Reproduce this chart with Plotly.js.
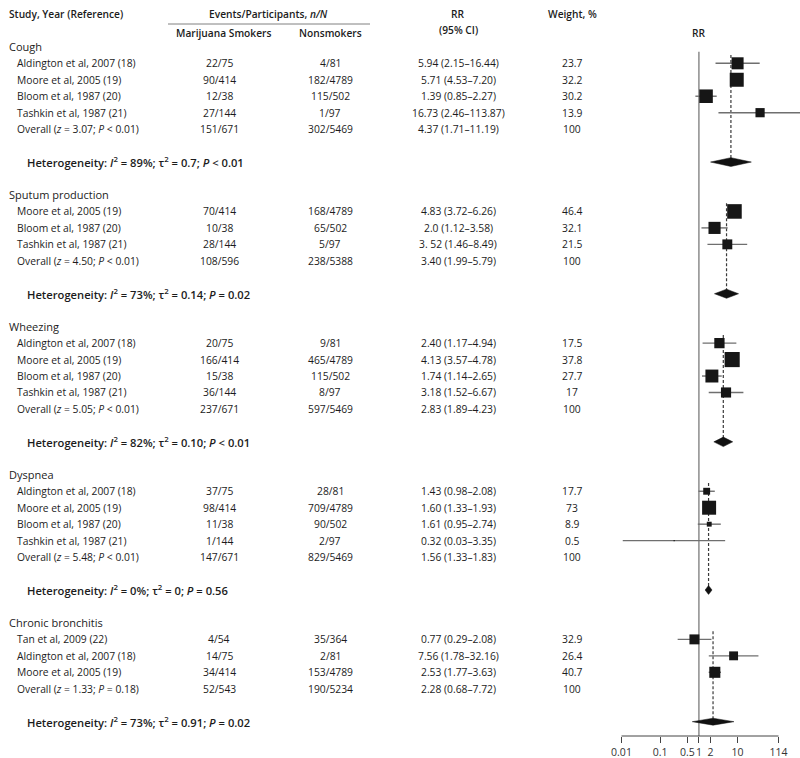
<!DOCTYPE html>
<html><head><meta charset="utf-8">
<script src="https://cdn.plot.ly/plotly-3.0.1.min.js"></script>
<style>html,body{margin:0;padding:0;background:#fff;} #chart{width:800px;height:758px;}</style>
</head><body><div id="chart"></div>
<script>
// ---------------- DATA ----------------
const sectionNames = ["Cough", "Sputum production", "Wheezing", "Dyspnea", "Chronic bronchitis"];

const studyNames = [
  "Aldington et al, 2007 (18)", "Moore et al, 2005 (19)", "Bloom et al, 1987 (20)", "Tashkin et al, 1987 (21)",
  "Moore et al, 2005 (19)", "Bloom et al, 1987 (20)", "Tashkin et al, 1987 (21)",
  "Aldington et al, 2007 (18)", "Moore et al, 2005 (19)", "Bloom et al, 1987 (20)", "Tashkin et al, 1987 (21)",
  "Aldington et al, 2007 (18)", "Moore et al, 2005 (19)", "Bloom et al, 1987 (20)", "Tashkin et al, 1987 (21)",
  "Tan et al, 2009 (22)", "Aldington et al, 2007 (18)", "Moore et al, 2005 (19)"
];
const studySection = [0,0,0,0, 1,1,1, 2,2,2,2, 3,3,3,3, 4,4,4];
const smokerEvents = ["22/75","90/414","12/38","27/144", "70/414","10/38","28/144",
  "20/75","166/414","15/38","36/144", "37/75","98/414","11/38","1/144", "4/54","14/75","34/414"];
const nonsmokerEvents = ["4/81","182/4789","115/502","1/97", "168/4789","65/502","5/97",
  "9/81","465/4789","115/502","8/97", "28/81","709/4789","90/502","2/97", "35/364","2/81","153/4789"];
const rr     = [5.94, 5.71, 1.39, 16.73,  4.83, 2.0, 3.52,  2.40, 4.13, 1.74, 3.18,  1.43, 1.60, 1.61, 0.32,  0.77, 7.56, 2.53];
const rrLow  = [2.15, 4.53, 0.85, 2.46,   3.72, 1.12, 1.46, 1.17, 3.57, 1.14, 1.52,  0.98, 1.33, 0.95, 0.03,  0.29, 1.78, 1.77];
const rrHigh = [16.44, 7.20, 2.27, 113.87, 6.26, 3.58, 8.49, 4.94, 4.78, 2.65, 6.67, 2.08, 1.93, 2.74, 3.35,  2.08, 32.16, 3.63];
const rrText = ["5.94 (2.15–16.44)","5.71 (4.53–7.20)","1.39 (0.85–2.27)","16.73 (2.46–113.87)",
  "4.83 (3.72–6.26)","2.0 (1.12–3.58)","3. 52 (1.46–8.49)",
  "2.40 (1.17–4.94)","4.13 (3.57–4.78)","1.74 (1.14–2.65)","3.18 (1.52–6.67)",
  "1.43 (0.98–2.08)","1.60 (1.33–1.93)","1.61 (0.95–2.74)","0.32 (0.03–3.35)",
  "0.77 (0.29–2.08)","7.56 (1.78–32.16)","2.53 (1.77–3.63)"];
const weight = [23.7, 32.2, 30.2, 13.9,  46.4, 32.1, 21.5,  17.5, 37.8, 27.7, 17,  17.7, 73, 8.9, 0.5,  32.9, 26.4, 40.7];

const overallZ = ["3.07", "4.50", "5.05", "5.48", "1.33"];
const overallP = ["&lt; 0.01", "&lt; 0.01", "&lt; 0.01", "&lt; 0.01", "= 0.18"];
const overallSmokers = ["151/671", "108/596", "237/671", "147/671", "52/543"];
const overallNonsmokers = ["302/5469", "238/5388", "597/5469", "829/5469", "190/5234"];
const overallRR = [4.37, 3.40, 2.83, 1.56, 2.28];
const overallLow = [1.71, 1.99, 1.89, 1.33, 0.68];
const overallHigh = [11.19, 5.79, 4.23, 1.83, 7.72];
const overallRRText = ["4.37 (1.71–11.19)", "3.40 (1.99–5.79)", "2.83 (1.89–4.23)", "1.56 (1.33–1.83)", "2.28 (0.68–7.72)"];
const overallWeight = ["100", "100", "100", "100", "100"];

const hetI2 = ["89%", "73%", "82%", "0%", "73%"];
const hetTau2 = ["0.7", "0.14", "0.10", "0", "0.91"];
const hetP = ["&lt; 0.01", "= 0.02", "&lt; 0.01", "= 0.56", "= 0.02"];

const tickValues = [0.01, 0.1, 0.5, 1, 2, 10, 114];
const tickLabels = ["0.01", "0.1", "0.5", "1", "2", "10", "114"];

// ---------------- STYLE / GEOMETRY ----------------
const W = 800, H = 758;
const FONT = "Open Sans, Noto Sans, sans-serif";
const TXT = "#1c1c1c";
const plotL = 600, plotR = 800;
const tickStartPx = 621.5, tickEndPx = 778.5;
const sectionPxPerDecade = [50, 52, 54, 50, 39.5];
const yTop = -2.846, yBot = 41.87, marginB = 22;
const rowPx = (H - marginB) / (yBot - yTop);

const tickLogMin = Math.log10(tickValues[0]), tickLogMax = Math.log10(tickValues[tickValues.length - 1]);
const tickScale = (tickEndPx - tickStartPx) / (tickLogMax - tickLogMin);
const nullPx = tickStartPx + (0 - tickLogMin) * tickScale;
const tickRange = [(plotL - nullPx) / tickScale, (plotR - nullPx) / tickScale];
function tickPaper(v) { return (plotL + (Math.log10(v) - tickRange[0]) * tickScale) / W; }

const colX = { section: 7, study: 15, het: 25, smk: 219, non: 330, rr: 458, wt: 572 };
const BODY = 10.3;

// ---------------- BUILD ----------------
const traces = [];
const annotations = [];
const layoutAxes = {};

function ann(text, xpx, r, opts) {
  opts = opts || {};
  annotations.push({
    text: text, x: xpx / W, xref: "paper", y: r, yref: "y",
    xanchor: opts.anchor || "center", yanchor: "middle", showarrow: false,
    font: { family: FONT, size: opts.size || BODY, color: TXT, weight: opts.weight || 400 }
  });
}

traces.push({ x: [1, 1], y: [0.3, yBot], xaxis: "x", yaxis: "y", mode: "lines",
  line: { color: "#8c8c8c", width: 1.5 }, hoverinfo: "skip" });

let r = 0;
sectionNames.forEach((name, s) => {
  const idx = [];
  studySection.forEach((sec, i) => { if (sec === s) idx.push(i); });
  const n = idx.length;
  const axisId = "x" + (s + 2);
  const scale = sectionPxPerDecade[s];
  layoutAxes["xaxis" + (s + 2)] = {
    type: "log", overlaying: "x", anchor: "y", visible: false, fixedrange: true,
    range: [(plotL - nullPx) / scale, (plotR - nullPx) / scale]
  };
  const headerRow = r;
  const rows = idx.map((_, k) => headerRow + 1 + k);
  const overallRow = headerRow + n + 1;
  const hetRow = headerRow + n + 3;

  ann(name, colX.section, headerRow, { anchor: "left", size: 11 });
  idx.forEach((i, k) => {
    ann(studyNames[i], colX.study, rows[k], { anchor: "left" });
    ann(smokerEvents[i], colX.smk, rows[k]);
    ann(nonsmokerEvents[i], colX.non, rows[k]);
    ann(rrText[i], colX.rr, rows[k]);
    ann(String(weight[i]), colX.wt, rows[k]);
  });
  ann("Overall (<i>z</i> = " + overallZ[s] + "; <i>P</i> " + overallP[s] + ")", colX.study, overallRow, { anchor: "left" });
  ann(overallSmokers[s], colX.smk, overallRow);
  ann(overallNonsmokers[s], colX.non, overallRow);
  ann(overallRRText[s], colX.rr, overallRow);
  ann(overallWeight[s], colX.wt, overallRow);
  ann("Heterogeneity: <i>I</i><sup>2</sup> = " + hetI2[s] + "; τ<sup>2</sup> = " + hetTau2[s] + "; <i>P</i> " + hetP[s],
      colX.het, hetRow, { anchor: "left", size: 11.2, weight: 600 });

  traces.push({ x: [overallRR[s], overallRR[s]], y: [rows[0] - 0.5, hetRow], xaxis: axisId, yaxis: "y",
    mode: "lines", line: { color: "#3a3a3a", width: 1.2, dash: "3px,2px" }, hoverinfo: "skip" });

  const cx = [], cy = [];
  idx.forEach((i, k) => { cx.push(rrLow[i], rrHigh[i], null); cy.push(rows[k], rows[k], null); });
  traces.push({ x: cx, y: cy, xaxis: axisId, yaxis: "y", mode: "lines",
    line: { color: "#6f6f6f", width: 1.4 }, hoverinfo: "skip" });

  const wmax = Math.max(...idx.map(i => weight[i]));
  traces.push({ x: idx.map(i => rr[i]), y: rows, xaxis: axisId, yaxis: "y", mode: "markers",
    marker: { symbol: "square", color: "#161616", opacity: 1,
      size: idx.map(i => 0.28 * scale * Math.sqrt(weight[i] / wmax)), line: { width: 0 } },
    hoverinfo: "skip" });

  const hh = 0.088 * scale / rowPx;
  traces.push({ x: [overallLow[s], overallRR[s], overallHigh[s], overallRR[s], overallLow[s]],
    y: [hetRow, hetRow - hh, hetRow, hetRow + hh, hetRow], xaxis: axisId, yaxis: "y",
    mode: "lines", fill: "toself", fillcolor: "#111111", line: { color: "#111111", width: 0.5 },
    hoverinfo: "skip" });

  r = headerRow + n + 5;
});

function rowOf(px) { return (px - (yTop * -rowPx)) / rowPx; }
const B = { weight: 600, size: 10.2 };
ann("Study, Year (Reference)", colX.section, rowOf(14), { anchor: "left", weight: 600, size: 10.2 });
ann("Events/Participants, <i>n/N</i>", 268, rowOf(14), B);
ann("Marijuana Smokers", 223, rowOf(33), B);
ann("Nonsmokers", 330, rowOf(33), B);
ann("RR", colX.rr, rowOf(14), B);
ann("(95% CI)", colX.rr, rowOf(30), B);
ann("Weight, %", colX.wt, rowOf(14), B);
ann("RR", nullPx, rowOf(33), B);

const shapes = [
  { type: "line", xref: "paper", yref: "y", x0: 168 / W, x1: 370 / W, y0: rowOf(24), y1: rowOf(24),
    line: { color: "#808080", width: 1 } },
  { type: "line", xref: "paper", yref: "paper", x0: tickPaper(tickValues[0]), x1: tickPaper(tickValues[tickValues.length - 1]),
    y0: 0, y1: 0, line: { color: "#444", width: 1 } }
];

const layout = Object.assign({
  width: W, height: H,
  margin: { l: 0, r: 0, t: 0, b: marginB, pad: 0 },
  paper_bgcolor: "#fff", plot_bgcolor: "rgba(0,0,0,0)",
  showlegend: false,
  font: { family: FONT, color: TXT },
  xaxis: {
    type: "log", domain: [plotL / W, plotR / W], range: tickRange, fixedrange: true,
    tickmode: "array", tickvals: tickValues, ticktext: tickLabels, tickangle: 0,
    ticks: "outside", ticklen: 6, tickwidth: 1, tickcolor: "#444",
    showgrid: false, zeroline: false, showline: false,
    tickfont: { family: FONT, size: 10.5, color: "#333" }
  },
  yaxis: { range: [yBot, yTop], visible: false, fixedrange: true, domain: [0, 1] },
  annotations: annotations,
  shapes: shapes
}, layoutAxes);

Plotly.newPlot("chart", traces, layout, { staticPlot: true, displayModeBar: false });
</script></body></html>
